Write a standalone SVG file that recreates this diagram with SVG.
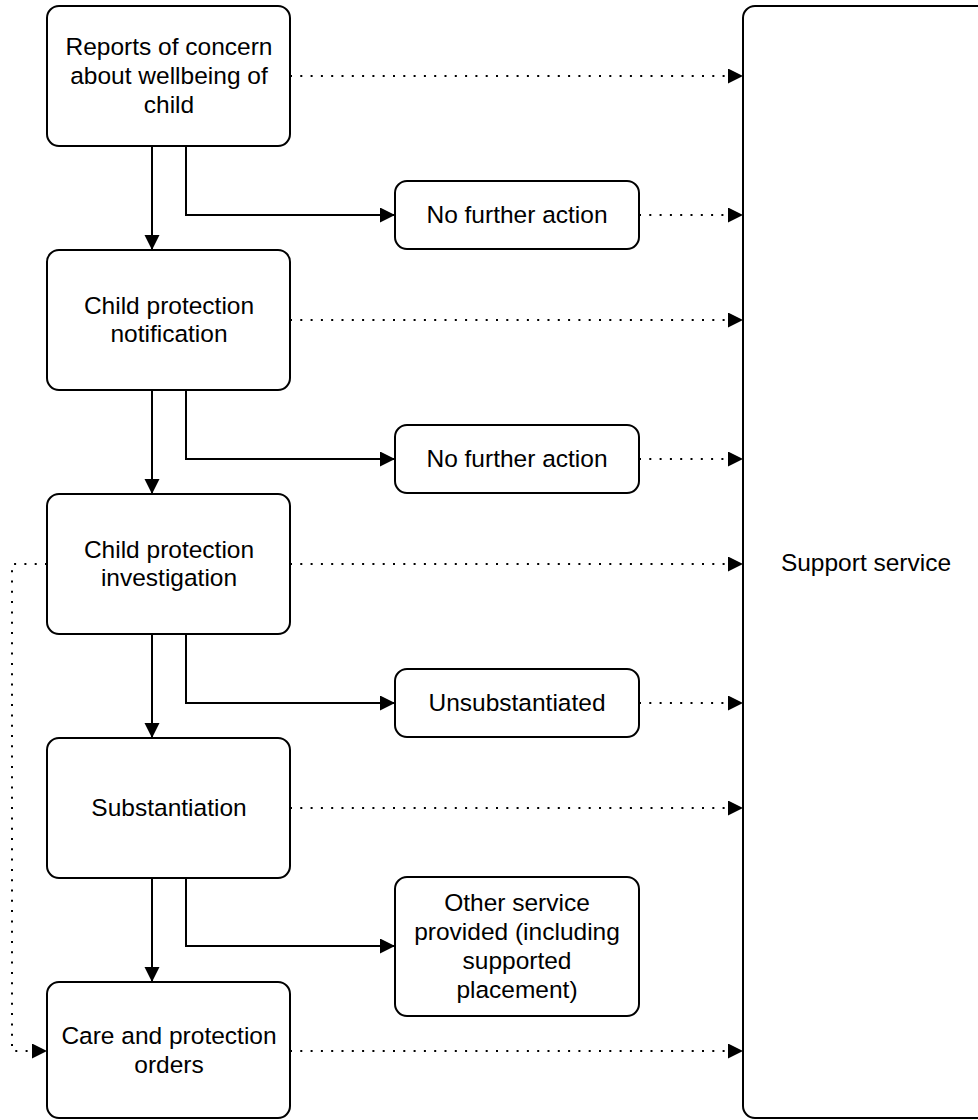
<svg xmlns="http://www.w3.org/2000/svg" width="978" height="1120" viewBox="0 0 978 1120">
<style>
.box{fill:#fff;stroke:#000;stroke-width:2}
.t{font-family:"Liberation Sans",Arial,sans-serif;font-size:24.5px;fill:#000;text-anchor:middle}
.solid{fill:none;stroke:#000;stroke-width:2}
.dot{fill:none;stroke:#000;stroke-width:2;stroke-dasharray:2 8.3}
</style>
<defs>
<marker id="arr" markerUnits="userSpaceOnUse" markerWidth="17" markerHeight="17" refX="15" refY="7.5" orient="auto">
<path d="M0,0 L15,7.5 L0,15 z" fill="#000"/>
</marker>
</defs>
<g id="support-service">
<rect class="box" x="743" y="6" width="246" height="1112" rx="12"/>
<text class="t" x="866" y="571">Support service</text>
</g>
<g id="connectors">
<path class="solid" d="M152,146 V250" marker-end="url(#arr)"/>
<path class="solid" d="M152,390 V494" marker-end="url(#arr)"/>
<path class="solid" d="M152,634 V738" marker-end="url(#arr)"/>
<path class="solid" d="M152,878 V982" marker-end="url(#arr)"/>
<path class="solid" d="M186,146 V215 H395" marker-end="url(#arr)"/>
<path class="solid" d="M186,390 V459 H395" marker-end="url(#arr)"/>
<path class="solid" d="M186,634 V703 H395" marker-end="url(#arr)"/>
<path class="solid" d="M186,878 V946 H395" marker-end="url(#arr)"/>
<path class="dot" d="M290,76 H743" marker-end="url(#arr)"/>
<path class="dot" d="M639,215 H743" marker-end="url(#arr)"/>
<path class="dot" d="M290,320 H743" marker-end="url(#arr)"/>
<path class="dot" d="M639,459 H743" marker-end="url(#arr)"/>
<path class="dot" d="M290,564 H743" marker-end="url(#arr)"/>
<path class="dot" d="M639,703 H743" marker-end="url(#arr)"/>
<path class="dot" d="M290,808 H743" marker-end="url(#arr)"/>
<path class="dot" d="M290,1051 H743" marker-end="url(#arr)"/>
<path class="dot" d="M47,564 H12 V1051 H47" marker-end="url(#arr)"/>
</g>
<g id="reports">
<rect class="box" x="47" y="6" width="243" height="140" rx="12"/>
<text class="t" x="169" y="55">Reports of concern</text>
<text class="t" x="169" y="84">about wellbeing of</text>
<text class="t" x="169" y="112.5">child</text>
</g>
<g id="nfa1">
<rect class="box" x="395" y="181" width="244" height="68" rx="12"/>
<text class="t" x="517" y="223">No further action</text>
</g>
<g id="notification">
<rect class="box" x="47" y="250" width="243" height="140" rx="12"/>
<text class="t" x="169" y="313.6">Child protection</text>
<text class="t" x="169" y="342.4">notification</text>
</g>
<g id="nfa2">
<rect class="box" x="395" y="425" width="244" height="68" rx="12"/>
<text class="t" x="517" y="467">No further action</text>
</g>
<g id="investigation">
<rect class="box" x="47" y="494" width="243" height="140" rx="12"/>
<text class="t" x="169" y="557.6">Child protection</text>
<text class="t" x="169" y="586.4">investigation</text>
</g>
<g id="unsubstantiated">
<rect class="box" x="395" y="669" width="244" height="68" rx="12"/>
<text class="t" x="517" y="711">Unsubstantiated</text>
</g>
<g id="substantiation">
<rect class="box" x="47" y="738" width="243" height="140" rx="12"/>
<text class="t" x="169" y="816">Substantiation</text>
</g>
<g id="other-service">
<rect class="box" x="395" y="877" width="244" height="139" rx="12"/>
<text class="t" x="517" y="911">Other service</text>
<text class="t" x="517" y="940">provided (including</text>
<text class="t" x="517" y="969">supported</text>
<text class="t" x="517" y="998">placement)</text>
</g>
<g id="care-orders">
<rect class="box" x="47" y="982" width="243" height="136" rx="12"/>
<text class="t" x="169" y="1044">Care and protection</text>
<text class="t" x="169" y="1072.5">orders</text>
</g>
</svg>
